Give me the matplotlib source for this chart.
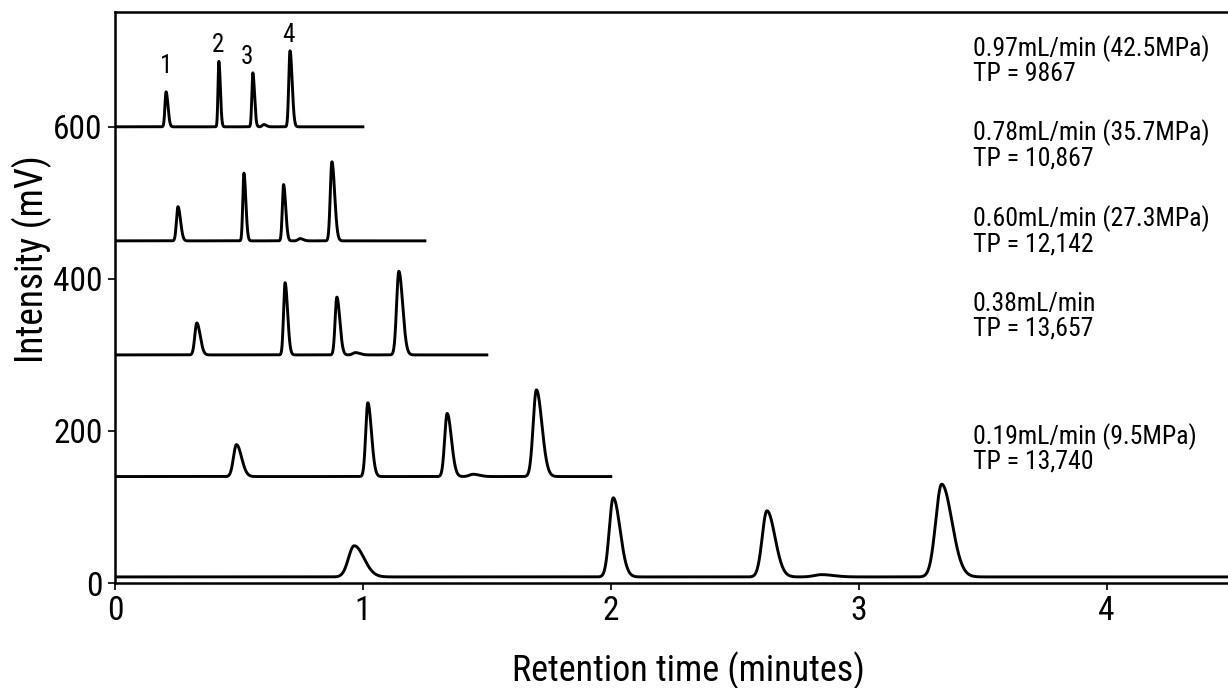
import numpy as np
import matplotlib

matplotlib.use("Agg")
import matplotlib.pyplot as plt

plt.rcParams["font.family"] = ["Roboto Condensed", "DejaVu Sans"]

# --- chromatogram data ---
flow_labels = [
    "0.97mL/min (42.5MPa)\nTP = 9867",
    "0.78mL/min (35.7MPa)\nTP = 10,867",
    "0.60mL/min (27.3MPa)\nTP = 12,142",
    "0.38mL/min\nTP = 13,657",
    "0.19mL/min (9.5MPa)\nTP = 13,740",
]
label_y = [687, 576, 463, 351, 177]

baselines = [600, 450, 300, 140, 8]
run_end = [1.0, 1.25, 1.5, 2.0, 4.49]

# retention times (min), heights (mV), widths (sigma, min)
peak_rt = [
    [0.206, 0.419, 0.556, 0.706],
    [0.254, 0.520, 0.680, 0.875],
    [0.330, 0.686, 0.895, 1.145],
    [0.490, 1.020, 1.340, 1.700],
    [0.965, 2.010, 2.630, 3.335],
]
peak_height = [
    [46, 86, 71, 100],
    [45, 89, 74, 104],
    [42, 95, 76, 110],
    [42, 97, 83, 114],
    [41, 104, 87, 122],
]
peak_sigma = [
    [0.0045, 0.0035, 0.0040, 0.0050],
    [0.0060, 0.0045, 0.0050, 0.0065],
    [0.0080, 0.0060, 0.0070, 0.0090],
    [0.0120, 0.0085, 0.0100, 0.0130],
    [0.0230, 0.0160, 0.0190, 0.0240],
]
# small impurity bump between peak 3 and 4
bump_rt = [0.600, 0.746, 0.970, 1.445, 2.850]
bump_height = [3, 3, 3, 3, 3]

peak_numbers = ["1", "2", "3", "4"]
peak_number_x = [0.206, 0.416, 0.532, 0.70]
peak_number_y = [680, 708, 692, 721]


def peak(t, rt, h, s, tail=1.7):
    sig = np.where(t < rt, s, s * tail)
    return h * np.exp(-0.5 * ((t - rt) / sig) ** 2)


fig = plt.figure(figsize=(12.28, 6.88), dpi=100)
ax = fig.add_axes([115 / 1228, 105 / 688, 1113 / 1228, 571 / 688])

for i in range(len(baselines)):
    t = np.linspace(0, run_end[i], 4000)
    y = np.full_like(t, baselines[i], dtype=float)
    for rt, h, s in zip(peak_rt[i], peak_height[i], peak_sigma[i]):
        y += peak(t, rt, h, s)
    y += peak(t, bump_rt[i], bump_height[i], peak_sigma[i][2] * 1.5)
    ax.plot(t, y, color="black", linewidth=2.1, solid_joinstyle="round")

for lab, ly in zip(flow_labels, label_y):
    ax.text(3.46, ly, lab, fontsize=18.5, va="center", ha="left", linespacing=1.0)

for n, px, py in zip(peak_numbers, peak_number_x, peak_number_y):
    ax.text(px, py, n, fontsize=18, ha="center", va="center")

ax.set_xlim(0, 4.49)
ax.set_ylim(0, 751)
ax.set_xticks([0, 1, 2, 3, 4])
ax.set_yticks([0, 200, 400, 600])
ax.tick_params(axis="both", labelsize=24, length=5, width=1.2, direction="out", pad=4)

for side in ["left", "top", "bottom"]:
    ax.spines[side].set_linewidth(1.8)
ax.spines["right"].set_visible(False)

ax.set_ylabel("Intensity (mV)", fontsize=27)
ax.yaxis.set_label_coords(-0.057, 0.567)
ax.set_xlabel("Retention time (minutes)", fontsize=26, va="baseline")
ax.xaxis.set_label_coords(0.515, -0.172)

fig.savefig("out.png", dpi=100)
